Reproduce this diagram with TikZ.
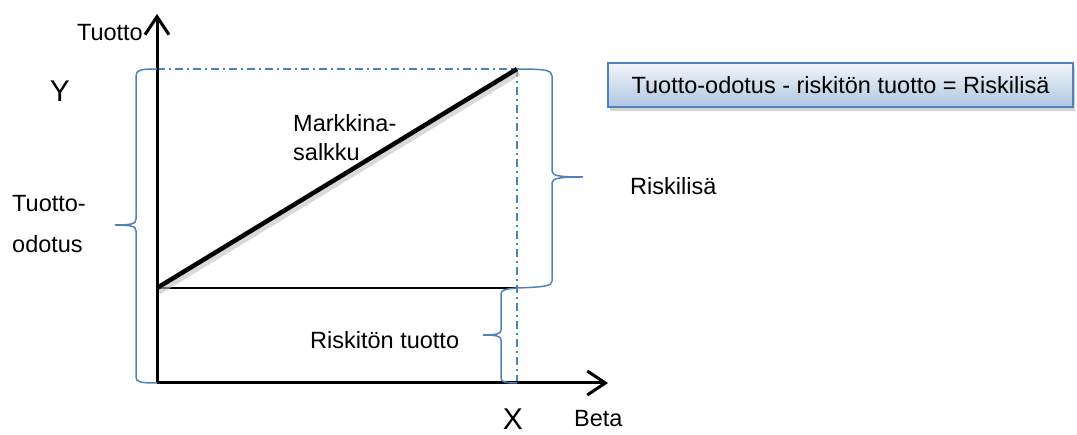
\documentclass[tikz,border=0pt]{standalone}
\usepackage{fontspec}
\setmainfont{Liberation Sans}
\usetikzlibrary{arrows.meta,shadows,calc}
\definecolor{officeblue}{RGB}{79,129,189}
\begin{document}
\begin{tikzpicture}[x=1pt,y=-1pt,
    axis/.style={line width=3pt, -{Straight Barb[length=18pt,width=24pt,line width=3pt]}},
    guide/.style={officeblue, line width=1.2pt, dash pattern=on 8pt off 4pt on 2pt off 4pt},
    brace/.style={officeblue, line width=1.5pt},
    lbl/.style={inner sep=0pt, font=\fontsize{23.5}{28}\selectfont},
    big/.style={inner sep=0pt, font=\fontsize{30}{34}\selectfont}]
    \useasboundingbox (0,0) rectangle (1077,435);

    % pisteet
    \coordinate (O) at (157,383);
    \coordinate (ytip) at (157,14);
    \coordinate (xtip) at (608,383);
    \coordinate (rf) at (157,288);
    \coordinate (mp) at (517,69);
    \coordinate (ym) at (157,69);
    \coordinate (xm) at (517,383);
    \coordinate (rfm) at (517,288);

    % apuviivat
    \draw[guide] (ym) -- (mp);
    \draw[guide] (mp) -- (xm);
    \draw[line width=1.4pt] (rf) -- (rfm);

    % markkinasuora
    \draw[line width=5pt, black!25, opacity=0.6] ($(rf)+(2,4)$) -- ($(mp)+(2,4)$);
    \draw[line width=4.5pt] (rf) -- (mp);

    % akselit
    \draw[axis] (O) -- (ytip);
    \draw[axis] (O) -- (xtip);

    % aaltosulkeet
    \draw[brace] (ym) .. controls (140,69) and (136,70) .. (136,76) -- (136,219)
        .. controls (136,224) and (131,225) .. (115,225)
        .. controls (131,225) and (136,226) .. (136,231) -- (136,377)
        .. controls (136,382) and (140,383) .. (O);
    \draw[brace] (mp) .. controls (545,69) and (552,70) .. (552,76) -- (552,171)
        .. controls (552,176) and (560,177) .. (583,177)
        .. controls (560,177) and (552,178) .. (552,183) -- (552,281)
        .. controls (552,286) and (545,287) .. (rfm);
    \draw[brace] (rfm) .. controls (505,289) and (501,290) .. (501,294) -- (501,330)
        .. controls (501,334) and (496,335) .. (483,335)
        .. controls (496,335) and (501,336) .. (501,340) -- (501,378)
        .. controls (501,382) and (505,383) .. (xm);

    % tekstit
    \node[lbl, anchor=base east] (tuotto) at (143,41) {Tuotto};
    \node[big, anchor=base] (ylab) at (60,102) {Y};
    \node[big, anchor=base] (xlab) at (513,430) {X};
    \node[lbl, anchor=base west] (beta) at (574,427) {Beta};
    \node[lbl, anchor=base west] (odotus1) at (12,212) {Tuotto-};
    \node[lbl, anchor=base west] (odotus2) at (12,253) {odotus};
    \node[lbl, anchor=base west] (mk1) at (293,132) {Markkina-};
    \node[lbl, anchor=base west] (mk2) at (293,161) {salkku};
    \node[lbl, anchor=base west] (riskilisa) at (630,195) {Riskilisä};
    \node[lbl, anchor=base west] (riskiton) at (310,349) {Riskitön tuotto};

    % kaava
    \node[lbl, draw=officeblue, line width=1.2pt, top color=officeblue!8, bottom color=officeblue!45,
          minimum width=465pt, minimum height=44pt,
          drop shadow={shadow xshift=2pt, shadow yshift=-4pt, opacity=0.35}] (kaava) at (840.5,85)
          {Tuotto-odotus - riskitön tuotto = Riskilisä};
\end{tikzpicture}
\end{document}
